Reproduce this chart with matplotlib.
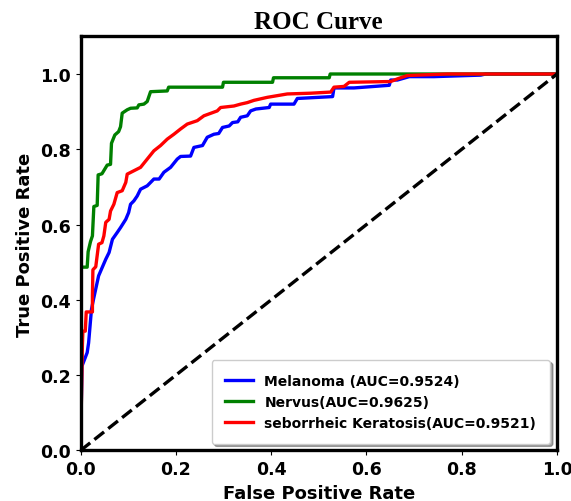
import matplotlib.pyplot as plt
import numpy as np

# ROC points
mel_fpr = [0, 0.003, 0.014, 0.017, 0.023, 0.028, 0.038, 0.053, 0.060, 0.067, 0.077, 0.084, 0.095, 0.101,
           0.105, 0.112, 0.119, 0.126, 0.140, 0.147, 0.154, 0.165, 0.175, 0.189, 0.203, 0.210, 0.231, 0.238,
           0.256, 0.266, 0.280, 0.290, 0.298, 0.312, 0.319, 0.330, 0.336, 0.350, 0.357, 0.368, 0.396, 0.399,
           0.448, 0.455, 0.529, 0.532, 0.574, 0.648, 0.651, 0.665, 0.690, 0.742, 0.840, 0.850, 1.0]
mel_tpr = [0, 0.224, 0.260, 0.286, 0.375, 0.406, 0.464, 0.508, 0.526, 0.561, 0.579, 0.592, 0.614, 0.632,
           0.654, 0.663, 0.676, 0.694, 0.703, 0.712, 0.721, 0.721, 0.739, 0.752, 0.774, 0.781, 0.782, 0.805,
           0.810, 0.832, 0.840, 0.842, 0.858, 0.862, 0.871, 0.873, 0.885, 0.889, 0.902, 0.907, 0.911, 0.920,
           0.920, 0.935, 0.940, 0.963, 0.963, 0.970, 0.984, 0.984, 0.993, 0.993, 0.997, 1.0, 1.0]

nev_fpr = [0, 0, 0.014, 0.016, 0.021, 0.025, 0.028, 0.035, 0.037, 0.045, 0.056, 0.063, 0.065, 0.072,
           0.080, 0.084, 0.0875, 0.098, 0.105, 0.119, 0.1225, 0.133, 0.140, 0.147, 0.182, 0.185, 0.298,
           0.300, 0.403, 0.405, 0.522, 0.524, 1.0]
nev_tpr = [0, 0.487, 0.487, 0.528, 0.555, 0.570, 0.648, 0.651, 0.732, 0.735, 0.758, 0.760, 0.816, 0.838,
           0.847, 0.860, 0.896, 0.905, 0.909, 0.910, 0.918, 0.920, 0.927, 0.953, 0.955, 0.965, 0.965,
           0.978, 0.978, 0.990, 0.990, 1.0, 1.0]

seb_fpr = [0, 0.004, 0.005, 0.010, 0.012, 0.025, 0.025, 0.026, 0.032, 0.038, 0.045, 0.049, 0.053, 0.060,
           0.063, 0.070, 0.077, 0.0875, 0.095, 0.098, 0.112, 0.126, 0.140, 0.154, 0.168, 0.182, 0.196, 0.210,
           0.224, 0.245, 0.259, 0.287, 0.294, 0.322, 0.336, 0.350, 0.364, 0.392, 0.434, 0.483, 0.525, 0.532,
           0.553, 0.564, 0.651, 0.665, 0.686, 0.770, 1.0]
seb_tpr = [0, 0.282, 0.317, 0.317, 0.368, 0.368, 0.410, 0.480, 0.488, 0.548, 0.552, 0.570, 0.606, 0.614,
           0.636, 0.654, 0.685, 0.690, 0.712, 0.734, 0.743, 0.752, 0.774, 0.796, 0.810, 0.827, 0.840, 0.854,
           0.867, 0.876, 0.889, 0.902, 0.911, 0.915, 0.920, 0.924, 0.930, 0.938, 0.947, 0.949, 0.952, 0.965,
           0.967, 0.978, 0.980, 0.987, 0.996, 1.0, 1.0]

labels = ['Melanoma (AUC=0.9524)', 'Nervus(AUC=0.9625)', 'seborrheic Keratosis(AUC=0.9521)']

fig = plt.figure(figsize=(5.71, 5.02), dpi=100)
ax = fig.add_axes([0.141, 0.1006, 0.8345, 0.825])

ax.plot(mel_fpr, mel_tpr, color='blue', lw=2.4, label=labels[0])
ax.plot(nev_fpr, nev_tpr, color='green', lw=2.4, label=labels[1])
ax.plot(seb_fpr, seb_tpr, color='red', lw=2.4, label=labels[2])
ax.plot([0, 1], [0, 1], 'k--', lw=2.4)

ax.set_xlim(0, 1.0)
ax.set_ylim(0, 1.1)
ax.set_xticks(np.arange(0, 1.01, 0.2))
ax.set_yticks(np.arange(0, 1.01, 0.2))
for lbl in ax.get_xticklabels() + ax.get_yticklabels():
    lbl.set_fontweight('bold')
    lbl.set_fontsize(12.5)
for sp in ax.spines.values():
    sp.set_linewidth(2.4)

ax.set_xlabel('False Positive Rate', fontsize=13, fontweight='bold')
ax.set_ylabel('True Positive Rate', fontsize=13, fontweight='bold')
ax.set_title('ROC Curve', fontsize=18, fontweight='bold', family='Liberation Serif')

ax.legend(loc='lower right', shadow=True, borderpad=1.0, prop={'weight': 'bold', 'size': 10})

fig.savefig('out.png', dpi=100)
